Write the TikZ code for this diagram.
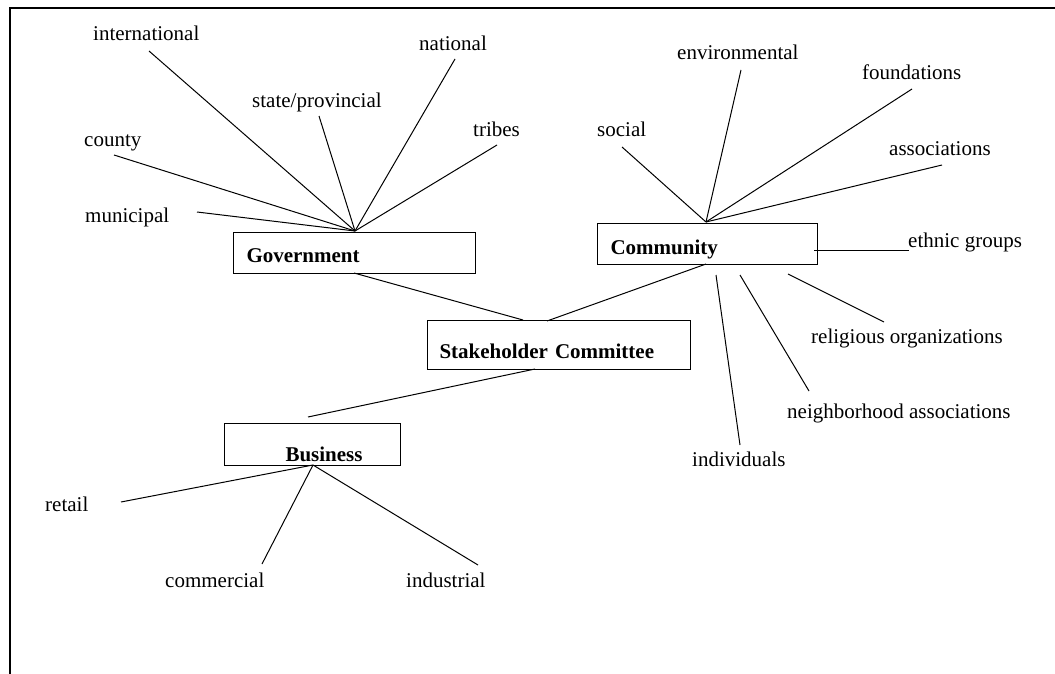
\documentclass[tikz,border=0pt]{standalone}
\usepackage{fontspec}
\setmainfont{Liberation Serif}
\begin{document}
\begin{tikzpicture}[x=1pt,y=-1pt,
  lbl/.style={inner sep=0pt,anchor=base west,font=\fontsize{21}{25}\selectfont},
  box/.style={draw,line width=1pt,inner sep=0pt,align=left,anchor=base west,
    font=\fontsize{21}{25}\selectfont\bfseries},
  spoke/.style={line width=1pt},
  link/.style={line width=1pt},
  frameline/.style={line width=2pt}]
\useasboundingbox (0,0) rectangle (1055,674);
% frame
\coordinate (fTL) at (10,8);
\coordinate (fTR) at (1056,8);
\coordinate (fBL) at (10,675);
\draw[frameline] (fBL) -- (fTL) -- (fTR);

% boxes
\node[box,text width=242pt,text height=30pt,text depth=11pt] (gov) at (233,262) {\hspace*{13pt}Government};
\node[box,text width=220pt,text height=31pt,text depth=10pt] (com) at (597,254) {\hspace*{13pt}Community};
\node[box,text width=263pt,text height=38pt,text depth=11pt] (stk) at (427,358) {\hspace*{12pt}Stakeholder Committee};
\node[box,text width=176pt,text height=38pt,text depth=4pt] (bus) at (224,461) {\hspace*{61pt}Business};

% labels
\node[lbl] (intl) at (93,41) {international};
\node[lbl] (state) at (252,108) {state/provincial};
\node[lbl] (nat) at (419,51) {national};
\node[lbl] (trib) at (473,137) {tribes};
\node[lbl] (cty) at (84,147) {county};
\node[lbl] (mun) at (85,222) {municipal};
\node[lbl] (soc) at (597,137) {social};
\node[lbl] (env) at (677,60) {environmental};
\node[lbl] (fnd) at (862,80) {foundations};
\node[lbl] (ass) at (889,156) {associations};
\node[lbl] (eth) at (908,247) {ethnic groups};
\node[lbl] (rel) at (811,343) {religious organizations};
\node[lbl] (nbh) at (787,418) {neighborhood associations};
\node[lbl] (ind) at (692,466) {individuals};
\node[lbl] (ret) at (45,511) {retail};
\node[lbl] (comm) at (165,587) {commercial};
\node[lbl] (indu) at (406,587) {industrial};

% hubs and free ends
\coordinate (gh) at (355,231);
\coordinate (ch) at (706,222);
\coordinate (bh) at (313,465);

\coordinate (intlE) at (149,51);
\coordinate (stateE) at (319,116);
\coordinate (natE) at (455,59);
\coordinate (tribE) at (497,145);
\coordinate (ctyE) at (114,155);
\coordinate (munE) at (197,212);

\coordinate (socE) at (622,147);
\coordinate (envE) at (741,70);
\coordinate (fndE) at (912,89);
\coordinate (assE) at (942,165);

\coordinate (ethA) at (814,250);
\coordinate (ethE) at (909,250);
\coordinate (relA) at (788,274);
\coordinate (relE) at (884,322);
\coordinate (nbhA) at (740,275);
\coordinate (nbhE) at (809,391);
\coordinate (indA) at (716,275);
\coordinate (indE) at (740,445);

\coordinate (retE) at (121,502);
\coordinate (commE) at (262,564);
\coordinate (induE) at (478,565);

% government spokes
\foreach \e in {intlE,stateE,natE,tribE,ctyE,munE} \draw[spoke] (gh) -- (\e);
% community spokes
\foreach \e in {socE,envE,fndE,assE} \draw[spoke] (ch) -- (\e);
\draw[spoke] (ethA) -- (ethE);
\draw[spoke] (relA) -- (relE);
\draw[spoke] (nbhA) -- (nbhE);
\draw[spoke] (indA) -- (indE);
% business spokes
\foreach \e in {retE,commE,induE} \draw[spoke] (bh) -- (\e);

% links between boxes
\coordinate (gS) at (354,273);
\coordinate (sN1) at (523,320);
\coordinate (cS) at (706,264);
\coordinate (sN2) at (547,321);
\coordinate (sS) at (535,369);
\coordinate (bFree) at (308,417);
\draw[link] (gS) -- (sN1);
\draw[link] (cS) -- (sN2);
\draw[link] (sS) -- (bFree);
\end{tikzpicture}
\end{document}
